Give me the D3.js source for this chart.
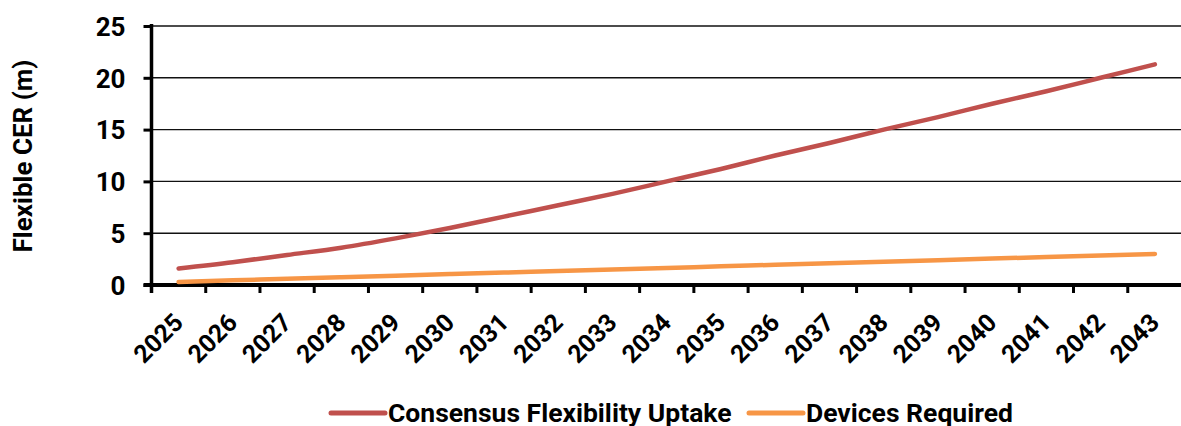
<!DOCTYPE html>
<html>
<head>
<meta charset="utf-8">
<script src="https://cdn.jsdelivr.net/npm/d3@7"></script>
<style>
  html, body { margin: 0; padding: 0; background: #fff; }
  svg text { font-family: "Roboto", "Liberation Sans", sans-serif; font-weight: 700; fill: #000; }
</style>
</head>
<body>
<script>
// chart data
const years = ["2025","2026","2027","2028","2029","2030","2031","2032","2033","2034",
               "2035","2036","2037","2038","2039","2040","2041","2042","2043"];
const consensusUptake = [1.6, 2.2, 2.9, 3.6, 4.5, 5.5, 6.6, 7.7, 8.8, 10.0,
                         11.2, 12.5, 13.7, 15.0, 16.2, 17.5, 18.7, 20.0, 21.3];
const devicesRequired = [0.3, 0.45, 0.6, 0.75, 0.9, 1.05, 1.2, 1.35, 1.5, 1.65,
                         1.8, 1.95, 2.1, 2.25, 2.4, 2.55, 2.7, 2.85, 3.0];
const yTicks = [0, 5, 10, 15, 20, 25];
const seriesNames = ["Consensus Flexibility Uptake", "Devices Required"];
const seriesColors = ["#c0504d", "#f79646"];

const w = 1181, h = 426;
const padL = 151.5, padR = 1182, padT = 26, padB = 285;

const svg = d3.select("body").append("svg")
  .attr("width", w).attr("height", h);

const x = d3.scaleBand().domain(years).range([padL, padR]);
const y = d3.scaleLinear().domain([0, 25]).range([padB, padT]);

// gridlines
svg.append("g")
  .selectAll("line")
  .data(yTicks.filter(d => d > 0))
  .enter().append("line")
  .attr("x1", padL).attr("x2", padR)
  .attr("y1", d => y(d)).attr("y2", d => y(d))
  .attr("stroke", "#111").attr("stroke-width", 1.4);

// y axis
const yAxis = d3.axisLeft(y).tickValues(yTicks).tickSize(8).tickPadding(18);
const gy = svg.append("g").attr("transform", "translate(" + padL + ",0)").call(yAxis);
gy.select(".domain").attr("stroke", "#000").attr("stroke-width", 3.5)
  .attr("d", "M0," + (padT - 2) + "V" + (padB + 8));
gy.selectAll(".tick line").attr("stroke", "#000").attr("stroke-width", 3);
gy.selectAll(".tick text")
  .style("font-size", "26px")
  .attr("dy", "0.36em");

// x axis
const xAxis = d3.axisBottom(x).tickSize(0).tickFormat("");
const gx = svg.append("g").attr("transform", "translate(0," + padB + ")").call(xAxis);
gx.select(".domain").attr("stroke", "#000").attr("stroke-width", 4)
  .attr("d", "M" + (padL - 8) + ",0H" + padR);

// x ticks at band boundaries
svg.append("g").selectAll("line")
  .data(years)
  .enter().append("line")
  .attr("x1", d => x(d)).attr("x2", d => x(d))
  .attr("y1", padB).attr("y2", padB + 8)
  .attr("stroke", "#000").attr("stroke-width", 3);

// rotated year labels
svg.append("g").selectAll("text")
  .data(years)
  .enter().append("text")
  .attr("transform", d => "translate(" + (x(d) + x.bandwidth() / 2 + 6) + "," + 324 + ") rotate(-45)")
  .attr("text-anchor", "end")
  .style("font-size", "25px")
  .text(d => d);

// y axis title
svg.append("text")
  .attr("transform", "translate(32," + 156 + ") rotate(-90)")
  .attr("text-anchor", "middle")
  .style("font-size", "26px")
  .text("Flexible CER (m)");

// lines
const line = d3.line()
  .x((d, i) => x(years[i]) + x.bandwidth() / 2)
  .y(d => y(d))
  .curve(d3.curveMonotoneX);

[consensusUptake, devicesRequired].forEach((s, k) => {
  svg.append("path")
    .datum(s)
    .attr("fill", "none")
    .attr("stroke", seriesColors[k])
    .attr("stroke-width", 4.5)
    .attr("stroke-linecap", "round")
    .attr("d", line);
});

// legend
const legendX = [331, 749];
const legend = svg.append("g");
seriesNames.forEach((name, k) => {
  legend.append("line")
    .attr("x1", legendX[k]).attr("x2", legendX[k] + 54)
    .attr("y1", 413).attr("y2", 413)
    .attr("stroke", seriesColors[k]).attr("stroke-width", 5)
    .attr("stroke-linecap", "round");
  legend.append("text")
    .attr("x", legendX[k] + 57).attr("y", 421.5)
    .style("font-size", "26.5px")
    .text(name);
});
</script>
</body>
</html>
